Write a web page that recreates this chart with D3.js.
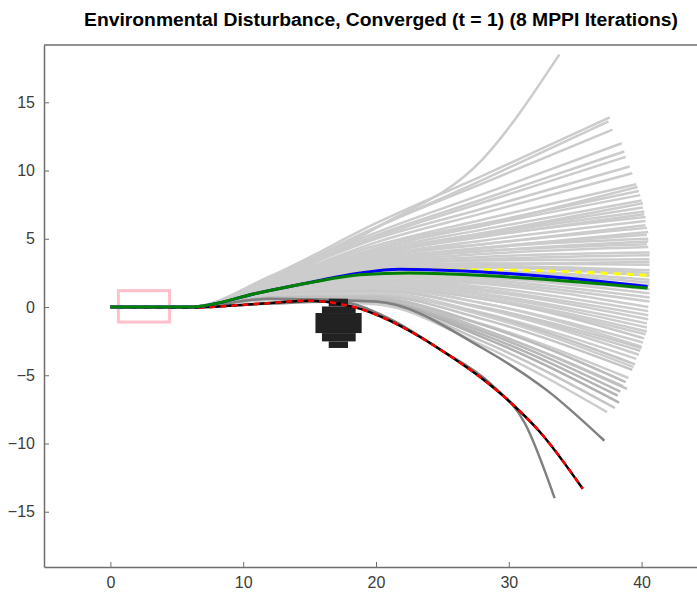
<!DOCTYPE html>
<html>
<head>
<meta charset="utf-8">
<script src="https://cdn.jsdelivr.net/npm/d3@7"></script>
<style>
body { margin: 0; background: #fff; }
text { font-family: "Liberation Sans", Arial, sans-serif; }
</style>
</head>
<body>
<script>
// sampled rollouts: y at x = 12, 20, 28 and the end point of each one
var sampleEndX = [33.8, 37.6, 37.5, 37.8, 38.5, 38.7, 38.8, 39.3, 39.6, 39.9, 40.0, 40.1, 40.2, 40.3, 40.4, 40.4, 40.5, 40.5, 40.6, 40.6,
                  40.6, 40.6, 40.6, 40.6, 40.6, 40.5, 40.5, 40.4, 40.3, 40.1, 39.9, 39.6, 39.3, 39.0, 38.6, 38.2, 38.0, 37.4, 40.3, 40.5,
                  40.6, 40.6, 40.6, 40.5, 40.4, 40.2, 39.8, 39.5, 38.8, 40.2, 39.8, 40.4, 40.0, 38.4, 40.6,
                  40.3, 40.1, 39.7, 39.1, 40.5, 40.6, 40.6, 40.6, 40.5, 40.4, 40.0, 39.4, 38.9, 38.3, 40.6];
var sampleEndY = [18.5, 13.9, 13.6, 13.0, 12.0, 11.4, 11.0, 9.8, 9.0, 8.2, 7.8, 7.3, 6.8, 6.3, 5.8, 5.3, 4.8, 4.4, 4.0, 3.5,
                  3.1, 2.7, 2.0, 1.0, 0.4, -0.3, -0.9, -1.5, -2.0, -2.6, -3.2, -3.8, -4.6, -5.2, -5.8, -6.5, -7.4, -7.7, 6.0, 5.0,
                  3.8, 2.3, 1.6, 0.0, -1.2, -2.3, -3.5, -4.2, -5.5, 7.0, 8.5, 4.6, -2.9, -6.2, 1.3,
                  6.6, 7.6, 8.8, 10.3, 5.5, 3.3, 2.5, 0.7, -0.6, -1.8, -3.0, -4.4, -6.0, -7.0, 1.8];
var sampleY12 = [1.8, 2.24, 2.0, 2.15, 2.04, 1.99, 1.95, 1.84, 1.78, 1.71, 1.67, 1.64, 1.6, 1.56, 1.52, 1.48, 1.45, 1.42, 1.39, 1.35,
                 1.32, 1.29, 1.24, 1.17, 1.13, 1.08, 1.03, 0.99, 0.95, 0.9, 0.86, 0.81, 0.74, 0.69, 0.63, 0.6, 0.55, 0.5, 1.7, 1.3,
                 1.5, 1.1, 1.4, 1.0, 1.2, 0.8, 1.0, 0.8, 0.7, 1.5, 1.9, 1.6, 1.0, 0.6, 1.1,
                 1.8, 1.5, 1.6, 2.0, 1.4, 1.2, 1.4, 1.2, 1.1, 0.9, 0.9, 0.9, 0.7, 0.6, 1.3];
var sampleY20 = [5.8, 6.14, 5.8, 5.85, 5.45, 5.25, 5.13, 4.74, 4.5, 4.27, 4.15, 4.01, 3.86, 3.73, 3.59, 3.46, 3.33, 3.23, 3.12, 2.99,
                 2.89, 2.79, 2.6, 2.35, 2.19, 2.01, 1.85, 1.7, 1.56, 1.39, 1.22, 1.05, 0.81, 0.63, 0.5, 0.4, 0.3, 0.2, 3.8, 3.3,
                 3.1, 2.6, 2.7, 2.0, 1.9, 1.4, 1.3, 0.9, 0.6, 3.9, 4.5, 3.5, 1.4, 0.4, 2.4,
                 4.0, 4.0, 4.3, 5.0, 3.4, 2.8, 3.0, 2.3, 2.0, 1.6, 1.2, 1.0, 0.7, 0.4, 2.5];
var sampleY28 = [10.8, 9.61, 9.3, 9.04, 8.25, 7.88, 7.64, 6.86, 6.4, 5.94, 5.67, 5.4, 5.13, 4.86, 4.59, 4.34, 4.08, 3.88, 3.67, 3.41,
                 3.21, 3.01, 2.65, 2.15, 1.84, 1.48, 1.18, 0.87, 0.61, 0.28, -0.08, -0.42, -0.87, -1.24, -1.65, -2.0, -2.5, -2.8, 4.6, 4.3,
                 3.5, 2.9, 2.4, 1.7, 1.0, 0.6, -0.1, -0.5, -1.3, 5.3, 6.1, 4.1, 0.3, -1.8, 2.2,
                 5.2, 5.4, 6.0, 7.2, 4.3, 3.1, 3.0, 2.0, 1.3, 0.7, 0.0, -0.6, -1.6, -2.2, 2.5];
var sampleShade = ["#cccccc", "#cccccc", "#cccccc", "#cccccc", "#cccccc", "#cccccc", "#cccccc", "#cccccc", "#cccccc", "#cccccc",
                   "#cccccc", "#cccccc", "#cccccc", "#cccccc", "#cccccc", "#cccccc", "#cccccc", "#cccccc", "#cccccc", "#cccccc",
                   "#cccccc", "#cccccc", "#cccccc", "#cccccc", "#cccccc", "#cccccc", "#cccccc", "#cccccc", "#cccccc", "#cccccc",
                   "#c8c8c8", "#cccccc", "#c4c4c4", "#cccccc", "#c0c0c0", "#b4b4b4", "#c4c4c4", "#cccccc", "#cccccc", "#cccccc",
                   "#cccccc", "#cccccc", "#cccccc", "#cccccc", "#cccccc", "#c8c8c8", "#cccccc", "#c4c4c4", "#bcbcbc", "#cccccc",
                   "#cccccc", "#cccccc", "#cccccc", "#b8b8b8", "#cccccc",
                   "#cccccc", "#cccccc", "#cccccc", "#cccccc", "#cccccc", "#cccccc", "#cccccc", "#cccccc", "#cccccc", "#cccccc",
                   "#c8c8c8", "#cccccc", "#c0c0c0", "#b0b0b0", "#cccccc"];

// darker rollouts near the obstacle
var darkX = [[0, 6, 12, 17, 21, 24.8, 28.6, 31.2, 33.45],
             [0, 6, 12, 20, 28, 33, 37.2]];
var darkY = [[0, 0, 0.25, 0.4, -0.85, -3.1, -5.6, -8.5, -14.0],
             [0, 0, 0.6, 0.4, -3.0, -6.2, -9.8]];

// main trajectories
var greenX = [0, 6, 11.2, 15, 18.8, 22.5, 25.6, 33.1, 40.45];
var greenY = [0, 0, 1.05, 1.78, 2.37, 2.5, 2.42, 2.0, 1.39];
var blueX = [0, 6, 11.2, 15, 18.8, 21.8, 25.6, 33.1, 40.45];
var blueY = [0, 0, 1.05, 1.8, 2.5, 2.77, 2.68, 2.22, 1.51];
var yellowX = [0, 6, 11.2, 15, 18.8, 21.8, 25.6, 27.8, 40.4];
var yellowY = [0, 0, 1.05, 1.8, 2.5, 2.77, 2.72, 2.73, 2.32];
var redX = [0, 6, 11.2, 15, 17.3, 18.77, 21.03, 23.29, 25.55, 27.81, 30.07, 32.33, 35.57];
var redY = [0, -0.05, 0.24, 0.46, 0.22, -0.12, -1.0, -2.18, -3.57, -5.11, -6.94, -9.14, -13.32];

// obstacle cells: [yLow, yHigh, xLow, xHigh]
var obstacleRows = [[0.04, 0.61, 16.44, 17.89],
                    [-0.44, 0.04, 15.93, 18.47],
                    [-1.91, -0.44, 15.44, 18.92],
                    [-2.52, -1.91, 15.93, 18.47],
                    [-3.0, -2.52, 16.44, 17.89]];

// start box: xLow, xHigh, yLow, yHigh
var startBox = [0.6, 4.45, -1.1, 1.2];

var xTicks = [0, 10, 20, 30, 40];
var yTicks = [-15, -10, -5, 0, 5, 10, 15];

var width = 697,
    height = 600;

var svg = d3.select("body")
            .append("svg")
            .attr("width", width)
            .attr("height", height);

var x = d3.scaleLinear().domain([-5, 45]).range([44, 708]);
var y = d3.scaleLinear().domain([-19.05, 19.2]).range([567, 45]);

var line = d3.line()
             .x(d => x(d[0]))
             .y(d => y(d[1]))
             .curve(d3.curveMonotoneX);

var plot = svg.append("g");

// samples
var samples = sampleEndX.map(function(xe, i) {
    return [[0, 0], [6, 0], [12, sampleY12[i]], [20, sampleY20[i]], [28, sampleY28[i]], [xe, sampleEndY[i]]];
});

plot.selectAll(".sample")
    .data(samples)
    .enter()
    .append("path")
      .attr("class", "sample")
      .attr("d", line)
      .attr("fill", "none")
      .attr("stroke", (d, i) => sampleShade[i])
      .attr("stroke-width", 2.5);

plot.selectAll(".dark")
    .data(darkX.map((xs, i) => xs.map((v, j) => [v, darkY[i][j]])))
    .enter()
    .append("path")
      .attr("class", "dark")
      .attr("d", line)
      .attr("fill", "none")
      .attr("stroke", "#808080")
      .attr("stroke-width", 2.5);

// obstacle
plot.selectAll(".obs")
    .data(obstacleRows)
    .enter()
    .append("rect")
      .attr("class", "obs")
      .attr("x", d => x(d[2]))
      .attr("y", d => y(d[1]))
      .attr("width", d => x(d[3]) - x(d[2]))
      .attr("height", d => y(d[0]) - y(d[1]))
      .attr("fill", "#222222");

// start box
plot.append("rect")
    .attr("x", x(startBox[0]))
    .attr("y", y(startBox[3]))
    .attr("width", x(startBox[1]) - x(startBox[0]))
    .attr("height", y(startBox[2]) - y(startBox[3]))
    .attr("fill", "none")
    .attr("stroke", "#ffc0cb")
    .attr("stroke-width", 3);

var redPts = redX.map((v, i) => [v, redY[i]]);
plot.append("path")
    .attr("d", line(redPts))
    .attr("fill", "none")
    .attr("stroke", "#000")
    .attr("stroke-width", 2.5);
plot.append("path")
    .attr("d", line(redPts))
    .attr("fill", "none")
    .attr("stroke", "#ff0000")
    .attr("stroke-width", 2.5)
    .attr("stroke-dasharray", "6,5");

plot.append("path")
    .attr("d", line(yellowX.map((v, i) => [v, yellowY[i]])))
    .attr("fill", "none")
    .attr("stroke", "#ffff00")
    .attr("stroke-width", 3)
    .attr("stroke-dasharray", "7,6");

plot.append("path")
    .attr("d", line(blueX.map((v, i) => [v, blueY[i]])))
    .attr("fill", "none")
    .attr("stroke", "#0000ff")
    .attr("stroke-width", 3);

plot.append("path")
    .attr("d", line(greenX.map((v, i) => [v, greenY[i]])))
    .attr("fill", "none")
    .attr("stroke", "#008000")
    .attr("stroke-width", 3);

// axes
var xAxis = svg.append("g")
               .attr("transform", "translate(0,567)")
               .call(d3.axisBottom(x).tickValues(xTicks).tickSize(-5).tickSizeOuter(0).tickPadding(10));
var yAxis = svg.append("g")
               .attr("transform", "translate(44,0)")
               .call(d3.axisLeft(y).tickValues(yTicks).tickSize(-5).tickSizeOuter(0).tickPadding(9));

[xAxis, yAxis].forEach(function(a) {
    a.select(".domain").attr("stroke", "#6e6e6e").attr("stroke-width", 1.5);
    a.selectAll(".tick line").attr("stroke", "#6e6e6e");
    a.selectAll(".tick text").attr("fill", "#3c3c3c").style("font-size", "16px")
     .style("font-family", "'Liberation Sans', Arial, sans-serif");
});

svg.append("line")
   .attr("x1", 44).attr("x2", 708)
   .attr("y1", 45).attr("y2", 45)
   .attr("stroke", "#6e6e6e")
   .attr("stroke-width", 1.5);

svg.append("text")
   .attr("x", 381)
   .attr("y", 26)
   .attr("text-anchor", "middle")
   .attr("textLength", 594)
   .attr("lengthAdjust", "spacingAndGlyphs")
   .style("font-size", "18px")
   .style("font-weight", "bold")
   .attr("fill", "#000")
   .text("Environmental Disturbance, Converged (t = 1) (8 MPPI Iterations)");
</script>
</body>
</html>
